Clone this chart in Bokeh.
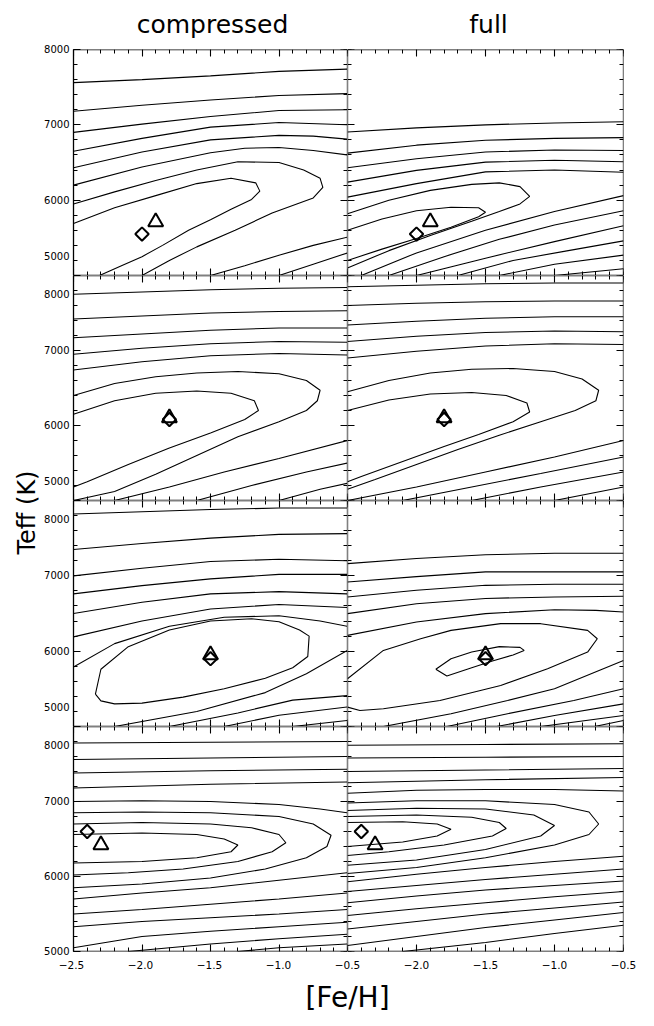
import numpy as np
from bokeh.plotting import figure
from bokeh.layouts import gridplot, column, row
from bokeh.models import Range1d, LinearAxis, SingleIntervalTicker, FixedTicker, Label
from bokeh.embed import file_html
from bokeh.resources import INLINE

# ---------------- data ----------------
col_titles = ["compressed", "full"]
x_title = "[Fe/H]"
y_title = "Teff (K)"
feh_limits = [-2.5, -0.5]
teff_limits = [5000, 8000]
feh_ticks = [-2.5, -2.0, -1.5, -1.0, -0.5]
feh_tick_text = ["\u22122.5", "\u22122.0", "\u22121.5", "\u22121.0", "\u22120.5"]
teff_ticks = [5000, 6000, 7000, 8000]

# markers: one per row (same in both columns)
diamond_feh = [-2.0, -1.8, -1.5, -2.4]
diamond_teff = [5550, 6080, 5900, 6600]
triangle_feh = [-1.9, -1.8, -1.5, -2.3]
triangle_teff = [5710, 6100, 5950, 6420]

# contour lines, row 1
r1_cmp_x = [
    [-2.5, -2.0, -1.5, -1.0, -0.5],
    [-2.5, -2.0, -1.5, -1.0, -0.5],
    [-2.5, -2.0, -1.5, -1.0, -0.5],
    [-2.5, -2.0, -1.5, -1.0, -0.5],
    [-2.5, -2.0, -1.5, -1.0, -0.75, -0.5],
    [-2.5, -2.0, -1.5, -1.25, -1.0, -0.75, -0.5],
    [-2.5, -2.2, -1.9, -1.6, -1.3, -1.0, -0.82, -0.7, -0.68, -0.75, -0.9, -1.05, -1.32, -1.6, -1.8, -2.0],
    [-2.5, -2.2, -1.9, -1.6, -1.35, -1.17, -1.14, -1.2, -1.35, -1.5, -1.66, -1.85, -2.0, -2.15, -2.31],
    [-1.5, -1.25, -1.0, -0.75, -0.5],
    [-1.0, -0.75, -0.5],
]
r1_cmp_y = [
    [7560, 7600, 7650, 7710, 7740],
    [7180, 7260, 7330, 7390, 7415],
    [6900, 7010, 7110, 7190, 7200],
    [6650, 6820, 6970, 7030, 7000],
    [6430, 6640, 6800, 6860, 6850, 6810],
    [6200, 6440, 6630, 6690, 6700, 6660, 6600],
    [5950, 6110, 6260, 6400, 6510, 6500, 6400, 6290, 6170, 6030, 5930, 5830, 5600, 5380, 5200, 5000],
    [5690, 5900, 6060, 6220, 6290, 6230, 6120, 6010, 5880, 5740, 5600, 5400, 5250, 5130, 5000],
    [5000, 5130, 5270, 5400, 5510],
    [5000, 5150, 5300],
]
r1_full_x = [
    [-2.5, -2.0, -1.5, -1.0, -0.5],
    [-2.5, -2.0, -1.5, -1.0, -0.5],
    [-2.5, -2.0, -1.5, -1.0, -0.5],
    [-2.5, -2.0, -1.5, -1.0, -0.5],
    [-2.5, -2.0, -1.5, -1.0, -0.5],
    [-2.5, -2.2, -1.9, -1.6, -1.4, -1.25, -1.18, -1.25, -1.4, -1.6, -1.9, -2.2, -2.5],
    [-2.5, -2.25, -2.0, -1.75, -1.55, -1.5, -1.55, -1.75, -2.0, -2.25, -2.5],
    [-2.4, -2.0, -1.5, -1.0, -0.5],
    [-2.2, -1.8, -1.4, -1.0, -0.5],
    [-2.0, -1.5, -1.0, -0.5],
    [-1.7, -1.3, -0.9, -0.5],
    [-1.4, -1.0, -0.5],
    [-1.0, -0.5],
]
r1_full_y = [
    [6905, 6960, 7000, 7025, 7040],
    [6625, 6730, 6795, 6820, 6830],
    [6430, 6550, 6640, 6665, 6660],
    [6240, 6395, 6505, 6530, 6510],
    [6040, 6220, 6375, 6400, 6370],
    [5820, 6000, 6130, 6210, 6230, 6180, 6050, 5950, 5850, 5720, 5530, 5330, 5100],
    [5600, 5750, 5860, 5905, 5900, 5840, 5780, 5640, 5490, 5350, 5200],
    [5000, 5300, 5600, 5850, 6060],
    [5000, 5250, 5480, 5670, 5860],
    [5000, 5230, 5450, 5660],
    [5000, 5200, 5330, 5460],
    [5000, 5150, 5270],
    [5000, 5090],
]

# row 2
r2_cmp_x = [
    [-2.5, -2.0, -1.5, -1.0, -0.5],
    [-2.5, -2.0, -1.5, -1.0, -0.5],
    [-2.5, -2.0, -1.5, -1.0, -0.5],
    [-2.5, -2.0, -1.5, -1.0, -0.5],
    [-2.5, -2.0, -1.5, -1.0, -0.5],
    [-2.5, -2.2, -1.9, -1.6, -1.3, -1.0, -0.8, -0.7, -0.72, -0.8, -1.0, -1.3, -1.6, -1.9, -2.2, -2.5],
    [-2.5, -2.2, -1.9, -1.6, -1.35, -1.18, -1.15, -1.25, -1.5, -1.8, -2.1, -2.4, -2.5],
    [-2.2, -1.8, -1.4, -1.0, -0.5],
    [-1.6, -1.2, -0.8, -0.5],
    [-1.0, -0.7, -0.5],
]
r2_cmp_y = [
    [7750, 7780, 7810, 7830, 7840],
    [7420, 7460, 7500, 7520, 7530],
    [7170, 7220, 7270, 7300, 7300],
    [6950, 7030, 7090, 7120, 7110],
    [6740, 6850, 6930, 6960, 6940],
    [6400, 6560, 6650, 6700, 6720, 6690, 6600, 6470, 6330, 6200, 6050, 5850, 5600, 5350, 5120, 5000],
    [6150, 6330, 6430, 6460, 6430, 6330, 6200, 6080, 5900, 5700, 5480, 5250, 5180],
    [5000, 5180, 5380, 5560, 5800],
    [5000, 5200, 5380, 5500],
    [5000, 5150, 5230],
]
r2_full_x = [
    [-2.5, -2.0, -1.5, -1.0, -0.5],
    [-2.5, -2.0, -1.5, -1.0, -0.5],
    [-2.5, -2.0, -1.5, -1.0, -0.5],
    [-2.5, -2.0, -1.5, -1.0, -0.5],
    [-2.5, -2.0, -1.5, -1.0, -0.5],
    [-2.5, -2.2, -1.9, -1.6, -1.3, -1.0, -0.8, -0.68, -0.7, -0.85, -1.1, -1.4, -1.7, -2.0, -2.3, -2.5],
    [-2.5, -2.2, -1.9, -1.6, -1.35, -1.2, -1.18, -1.3, -1.55, -1.8, -2.1, -2.4, -2.5],
    [-2.5, -2.0, -1.5, -1.0, -0.5],
    [-2.1, -1.6, -1.1, -0.5],
    [-1.6, -1.1, -0.5],
    [-1.0, -0.5],
]
r2_full_y = [
    [7850, 7870, 7890, 7900, 7900],
    [7600, 7630, 7650, 7660, 7660],
    [7340, 7390, 7430, 7450, 7450],
    [7120, 7190, 7240, 7260, 7250],
    [6900, 6990, 7060, 7090, 7080],
    [6450, 6600, 6700, 6750, 6760, 6720, 6620, 6470, 6330, 6200, 6050, 5870, 5680, 5480, 5280, 5150],
    [6200, 6340, 6420, 6440, 6400, 6300, 6180, 6050, 5880, 5720, 5520, 5320, 5250],
    [5000, 5180, 5380, 5580, 5800],
    [5000, 5180, 5360, 5580],
    [5000, 5180, 5380],
    [5000, 5180],
]

# row 3
r3_cmp_x = [
    [-2.5, -2.0, -1.5, -1.0, -0.5],
    [-2.5, -2.0, -1.5, -1.0, -0.5],
    [-2.5, -2.0, -1.5, -1.0, -0.5],
    [-2.5, -2.0, -1.5, -1.0, -0.5],
    [-2.5, -2.0, -1.5, -1.0, -0.5],
    [-2.5, -2.0, -1.5, -1.0, -0.5],
    [-2.5, -2.2, -1.8, -1.4, -1.0, -0.7, -0.5],
    [-2.34, -2.3, -2.2, -2.0, -1.7, -1.4, -1.1, -0.9, -0.79, -0.78, -0.85, -1.0, -1.2, -1.5, -1.8, -2.1, -2.3, -2.34],
    [-2.2, -1.6, -1.1, -0.8, -0.5],
    [-1.8, -1.3, -0.9, -0.5],
    [-1.4, -1.0, -0.5],
    [-0.9, -0.5],
]
r3_cmp_y = [
    [7820, 7850, 7880, 7900, 7900],
    [7350, 7430, 7500, 7550, 7560],
    [7000, 7100, 7190, 7220, 7200],
    [6760, 6870, 6960, 7020, 7020],
    [6500, 6650, 6760, 6790, 6760],
    [6190, 6400, 6560, 6620, 6580],
    [5790, 6100, 6330, 6450, 6470, 6400, 6330],
    [5430, 5340, 5300, 5310, 5390, 5500, 5640, 5780, 5930, 6200, 6280, 6390, 6430, 6400, 6280, 6060, 5760, 5430],
    [5000, 5200, 5450, 5700, 6010],
    [5000, 5180, 5350, 5410],
    [5000, 5150, 5260],
    [5000, 5080],
]
r3_full_x = [
    [-2.5, -2.0, -1.5, -1.0, -0.5],
    [-2.5, -2.0, -1.5, -1.0, -0.5],
    [-2.5, -2.0, -1.5, -1.0, -0.5],
    [-2.5, -2.0, -1.5, -1.0, -0.5],
    [-2.5, -2.0, -1.5, -1.0, -0.7, -0.5],
    [-2.5, -2.24, -1.97, -1.75, -1.39, -1.1, -0.76, -0.69, -0.76, -1.05, -1.39, -1.83, -2.24, -2.41, -2.5],
    [-1.86, -1.75, -1.6, -1.4, -1.25, -1.22, -1.3, -1.45, -1.6, -1.78, -1.86],
    [-2.24, -1.75, -1.34, -1.0, -0.5],
    [-1.78, -1.34, -0.86, -0.5],
    [-1.42, -1.0, -0.5],
    [-1.1, -0.5],
    [-0.71, -0.5],
]
r3_full_y = [
    [7162, 7230, 7280, 7300, 7300],
    [6919, 6990, 7052, 7052, 7052],
    [6719, 6808, 6874, 6888, 6888],
    [6498, 6630, 6700, 6719, 6728],
    [6210, 6387, 6498, 6550, 6542, 6520],
    [5634, 6010, 6165, 6276, 6365, 6365, 6276, 6165, 5988, 5767, 5545, 5346, 5235, 5213, 5257],
    [5760, 5900, 5990, 6060, 6050, 6010, 5950, 5870, 5780, 5670, 5760],
    [5000, 5170, 5346, 5500, 5877],
    [5000, 5170, 5346, 5500],
    [5000, 5146, 5300],
    [5000, 5146],
    [5000, 5080],
]

# row 4
r4_cmp_x = [
    [-2.5, -1.5, -0.5],
    [-2.5, -1.5, -0.5],
    [-2.5, -1.5, -0.5],
    [-2.5, -1.5, -0.5],
    [-2.5, -2.0, -1.5, -1.0, -0.7, -0.5],
    [-2.5, -2.0, -1.5, -1.0, -0.75, -0.62, -0.65, -0.8, -1.1, -1.5, -2.0, -2.5],
    [-2.5, -2.0, -1.5, -1.2, -1.0, -0.95, -1.05, -1.3, -1.7, -2.1, -2.5],
    [-2.5, -2.0, -1.6, -1.4, -1.3, -1.35, -1.6, -2.0, -2.5],
    [-2.5, -2.0, -1.5, -1.0, -0.5],
    [-2.5, -2.0, -1.5, -1.0, -0.5],
    [-2.5, -2.0, -1.5, -1.0, -0.5],
    [-2.5, -2.0, -1.5, -1.0, -0.5],
    [-2.1, -1.5, -1.0, -0.5],
    [-1.3, -1.0, -0.5],
]
r4_cmp_y = [
    [7780, 7790, 7800],
    [7560, 7580, 7600],
    [7380, 7410, 7430],
    [7180, 7230, 7260],
    [7000, 7010, 7000, 6960, 6900, 6850],
    [6850, 6860, 6850, 6800, 6700, 6550, 6400, 6250, 6100, 5980, 5900, 5850],
    [6700, 6720, 6700, 6650, 6560, 6450, 6330, 6200, 6100, 6050, 6020],
    [6560, 6580, 6560, 6500, 6420, 6330, 6250, 6200, 6180],
    [5700, 5780, 5850, 5950, 6050],
    [5500, 5560, 5630, 5700, 5780],
    [5330, 5400, 5450, 5500, 5560],
    [5050, 5200, 5270, 5330, 5390],
    [5000, 5100, 5170, 5230],
    [5000, 5050, 5100],
]
r4_full_x = [
    [-2.5, -1.5, -0.5],
    [-2.5, -1.5, -0.5],
    [-2.5, -1.5, -0.5],
    [-2.5, -1.5, -0.5],
    [-2.5, -2.0, -1.5, -1.0, -0.5],
    [-2.5, -2.0, -1.5, -1.0, -0.75, -0.68, -0.75, -1.0, -1.5, -2.0, -2.5],
    [-2.5, -2.0, -1.5, -1.15, -1.0, -1.1, -1.5, -2.0, -2.5],
    [-2.5, -2.0, -1.6, -1.4, -1.35, -1.45, -1.8, -2.2, -2.5],
    [-2.5, -2.1, -1.85, -1.75, -1.85, -2.1, -2.5],
    [-2.5, -2.0, -1.5, -1.0, -0.5],
    [-2.5, -2.0, -1.5, -1.0, -0.5],
    [-2.5, -2.0, -1.5, -1.0, -0.5],
    [-2.5, -2.0, -1.5, -1.0, -0.5],
    [-2.5, -2.0, -1.5, -1.0, -0.5],
    [-2.5, -2.0, -1.5, -1.0, -0.5],
    [-2.1, -1.5, -1.0, -0.5],
]
r4_full_y = [
    [7750, 7760, 7770],
    [7580, 7590, 7600],
    [7400, 7420, 7440],
    [7250, 7290, 7320],
    [7110, 7150, 7160, 7160, 7140],
    [6980, 7010, 7010, 6960, 6860, 6700, 6560, 6420, 6250, 6120, 6040],
    [6880, 6910, 6900, 6820, 6680, 6540, 6360, 6220, 6150],
    [6800, 6820, 6790, 6720, 6640, 6540, 6420, 6330, 6280],
    [6720, 6730, 6700, 6630, 6540, 6460, 6400],
    [5930, 6030, 6120, 6200, 6270],
    [5800, 5880, 5960, 6030, 6100],
    [5650, 5740, 5820, 5880, 5940],
    [5480, 5570, 5650, 5730, 5800],
    [5300, 5400, 5500, 5580, 5660],
    [5080, 5200, 5320, 5420, 5520],
    [5000, 5120, 5240, 5350],
]

panels = [
    [(r1_cmp_x, r1_cmp_y), (r1_full_x, r1_full_y)],
    [(r2_cmp_x, r2_cmp_y), (r2_full_x, r2_full_y)],
    [(r3_cmp_x, r3_cmp_y), (r3_full_x, r3_full_y)],
    [(r4_cmp_x, r4_cmp_y), (r4_full_x, r4_full_y)],
]

# ---------------- styling / layout ----------------
FONT = "DejaVu Sans"
FRAME_W = 276
FRAME_H = [226, 225, 226, 225]
YLAB_W = 41   # includes the 8px page offset
LEFT_B = 30
RIGHT_B = 16
TOP_B = 10
BOTTOM_B = 7
TITLE_H = 39  # includes the 8px page offset
N_ROWS = 4
OUTER_L = YLAB_W + LEFT_B


def style_ticks(ax):
    ax.major_tick_in = 7
    ax.major_tick_out = 0
    ax.minor_tick_in = 4
    ax.minor_tick_out = 0
    ax.axis_line_color = "black"
    ax.axis_line_width = 1.3
    ax.major_tick_line_color = "black"
    ax.major_tick_line_width = 1.1
    ax.minor_tick_line_color = "black"
    ax.minor_tick_line_width = 1.0


def plain_axis(interval, fixed):
    ax = LinearAxis(ticker=SingleIntervalTicker(interval=interval, num_minor_ticks=5))
    style_ticks(ax)
    ax.fixed_location = fixed
    ax.major_label_text_color = None
    ax.major_label_standoff = 0
    return ax


def teff_label_axis(r):
    ax = LinearAxis(ticker=SingleIntervalTicker(interval=1000, num_minor_ticks=5))
    style_ticks(ax)
    ax.major_label_text_font = FONT
    ax.major_label_text_font_size = "10px"
    ax.major_label_text_color = "black"
    ax.major_label_standoff = 4
    # labels on shared panel edges are nudged off the edge (as in the stacked original)
    over = {}
    if r > 0:
        over[teff_ticks[-1]] = "\n" + str(teff_ticks[-1])
    if r < N_ROWS - 1:
        over[teff_ticks[0]] = str(teff_ticks[0]) + "\n"
    ax.major_label_overrides = over
    return ax


def make_panel(r, c):
    xs, ys = panels[r][c]
    lb = LEFT_B if c == 0 else 0
    rb = RIGHT_B if c == 1 else 0
    tb = TOP_B if r == 0 else 0
    bb = BOTTOM_B if r == N_ROWS - 1 else 0
    p = figure(width=FRAME_W + lb + rb, height=FRAME_H[r] + tb + bb,
               x_range=Range1d(feh_limits[0], feh_limits[1]),
               y_range=Range1d(teff_limits[0], teff_limits[1]),
               x_axis_type=None, y_axis_type=None,
               output_backend="svg", toolbar_location=None,
               min_border_left=lb, min_border_right=rb,
               min_border_top=tb, min_border_bottom=bb)
    p.outline_line_color = None
    p.background_fill_color = "white"
    p.border_fill_color = "white"

    # axes on all four sides, ticks pointing inward
    if c == 0:
        p.add_layout(teff_label_axis(r), "left")
    else:
        p.add_layout(plain_axis(1000, feh_limits[0]), "left")
    p.add_layout(plain_axis(1000, feh_limits[1]), "right")
    p.add_layout(plain_axis(0.5, teff_limits[1]), "above")
    p.add_layout(plain_axis(0.5, teff_limits[0]), "below")

    p.multi_line(xs=xs, ys=ys, line_color="black", line_width=1.1)
    p.scatter([diamond_feh[r]], [diamond_teff[r]], marker="square", angle=np.pi / 4,
              size=9.5, fill_color=None, line_color="black", line_width=2)
    p.scatter([triangle_feh[r]], [triangle_teff[r]], marker="triangle",
              size=15, fill_color=None, line_color="black", line_width=2)
    return p


grid_rows = [[make_panel(r, c) for c in range(2)] for r in range(N_ROWS)]
grid = gridplot(grid_rows, toolbar_location=None)

grid_h = TOP_B + sum(FRAME_H) + BOTTOM_B
span = feh_limits[1] - feh_limits[0]
both_cols = Range1d(feh_limits[0], feh_limits[1] + span)  # the two columns side by side

# column titles (frame spans both panel columns)
tf = figure(frame_width=2 * FRAME_W, frame_height=TITLE_H,
            x_range=both_cols, y_range=Range1d(0, TITLE_H),
            x_axis_type=None, y_axis_type=None, output_backend="svg",
            toolbar_location=None, title=None,
            min_border_left=OUTER_L, min_border_right=RIGHT_B,
            min_border_top=0, min_border_bottom=0)
tf.outline_line_color = None
col_mid = [feh_limits[0] + span / 2, feh_limits[1] + span / 2]
for txt, cx in zip(col_titles, col_mid):
    tf.add_layout(Label(x=cx, y=TITLE_H - 24, x_offset=3, text=txt, text_align="center",
                        text_baseline="middle", text_font=FONT,
                        text_font_size="25px", text_color="black"))

# shared y title
yf = figure(width=YLAB_W, height=grid_h, x_range=Range1d(0, YLAB_W),
            y_range=Range1d(0, grid_h), x_axis_type=None, y_axis_type=None,
            output_backend="svg", toolbar_location=None, min_border=0, title=None)
yf.outline_line_color = None
yf.add_layout(Label(x=26, y=grid_h - 473, text=y_title, angle=np.pi / 2,
                    text_align="center", text_baseline="middle", text_font=FONT,
                    text_font_size="24px", text_color="black"))

# shared [Fe/H] tick labels under both columns, with the x title as axis label
xf = figure(frame_width=2 * FRAME_W, frame_height=2,
            x_range=both_cols, y_range=Range1d(0, 1),
            x_axis_type=None, y_axis_type=None,
            output_backend="svg", toolbar_location=None, title=None,
            min_border_left=OUTER_L, min_border_right=RIGHT_B,
            min_border_top=0, min_border_bottom=4)
xf.outline_line_color = None
tick_pos = feh_ticks + [t + span for t in feh_ticks[1:]]
tick_txt = feh_tick_text + feh_tick_text[1:]
xax = LinearAxis(ticker=FixedTicker(ticks=tick_pos), axis_label=x_title)
xax.major_label_overrides = {t: s for t, s in zip(tick_pos, tick_txt)}
xax.axis_line_color = None
xax.major_tick_line_color = None
xax.minor_tick_line_color = None
xax.major_tick_in = 0
xax.major_tick_out = 0
xax.major_label_standoff = 0
xax.major_label_text_font = FONT
xax.major_label_text_font_size = "10.5px"
xax.major_label_text_color = "black"
xax.axis_label_standoff = 9
xax.axis_label_text_font = FONT
xax.axis_label_text_font_size = "28px"
xax.axis_label_text_font_style = "normal"
xax.axis_label_text_color = "black"
xf.add_layout(xax, "below")

layout = column(tf, row(yf, grid), xf)

open("out.html", "w").write(file_html(layout, INLINE))
